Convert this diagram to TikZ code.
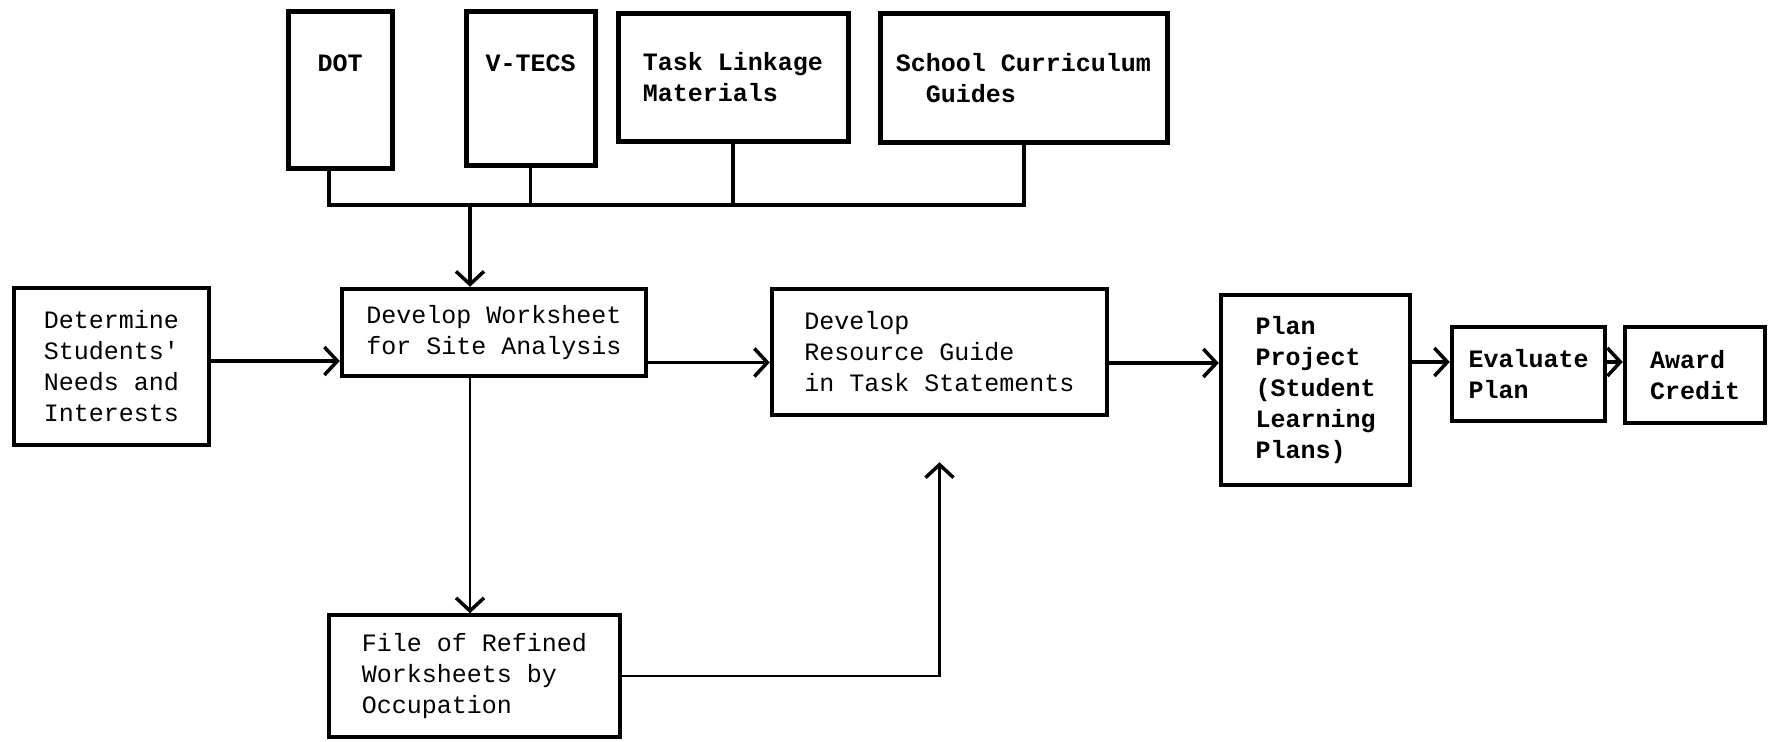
\documentclass[tikz,border=0pt]{standalone}
\usepackage{fontspec}
\setmonofont{Liberation Mono}
\usetikzlibrary{positioning,arrows.meta}

\begin{document}
\begin{tikzpicture}[x=1pt,y=-1pt,
    block/.style={draw, line width=4.5pt, inner sep=0pt, align=left,
        font=\ttfamily\fontsize{25}{31}\selectfont},
    heavy/.style={block, font=\ttfamily\bfseries\fontsize{25}{31}\selectfont},
    source/.style={heavy, anchor=north, line width=5pt},
    link/.style={line width=3.5pt},
    flow/.style={link, -{Straight Barb[length=13pt,width=28pt,line width=3.5pt]}}]
    \useasboundingbox (0,0) rectangle (1768,741);

    % Sources along the top
    \node[source, minimum width=104pt, text height=60pt, text depth=97pt] (dot) at (340,9) {DOT};
    \node[source, minimum width=129pt, text height=60pt, text depth=94pt] (vtecs) at (530.5,9) {V-TECS};
    \node[source, minimum width=230pt, minimum height=128pt] (task) at (733,11) {Task Linkage\\Materials};
    \node[source, minimum width=287pt, minimum height=129pt] (school) at (1023.5,11) {School Curriculum\\~~Guides};

    % Main row
    \node[block, minimum width=195pt, minimum height=157pt] (determine) at (111.5,366.5) {Determine\\Students'\\Needs and\\Interests};
    \node[block, minimum width=304pt, minimum height=87pt] (worksheet) at (494,332.5) {Develop Worksheet\\for Site Analysis};
    \node[block, minimum width=335pt, minimum height=126pt] (resource) at (939.5,352) {Develop\\Resource Guide\\in Task Statements};
    \node[heavy, minimum width=189pt, minimum height=190pt] (plan) at (1315.5,390) {Plan\\Project\\(Student\\Learning\\Plans)};
    \node[heavy, minimum width=153pt, minimum height=94pt] (evaluate) at (1528.5,374) {Evaluate\\Plan};
    \node[heavy, minimum width=140pt, minimum height=96pt] (award) at (1695,375) {Award\\Credit};

    % File below
    \node[block, line width=3.5pt, minimum width=291pt, minimum height=122pt] (file) at (474.5,676) {File of Refined\\Worksheets by\\Occupation};

    % Sources joined on one line
    \coordinate (hub) at (470,205);
    \draw[link, line width=4pt] ([xshift=-11pt]dot.south) |- (hub) -| (school.south);
    \foreach \n in {vtecs,task} {
        \draw[link] (\n.south) -- (\n.south |- hub);
    }
    \draw[flow] (hub) -- (hub |- worksheet.north);

    % Main flow
    \draw[flow] ([yshift=5.5pt]determine.east) -- ([yshift=5.5pt]determine.east -| worksheet.west);
    \draw[flow] ([yshift=-30pt]worksheet.east) -- ([yshift=-30pt]worksheet.east -| resource.west);
    \draw[flow, line width=4.5pt] ([yshift=-11pt]resource.east) -- ([yshift=-11pt]resource.east -| plan.west);
    \draw[flow, line width=4.5pt] ([yshift=12pt]evaluate.west -| plan.east) -- ([yshift=12pt]evaluate.west);
    \draw[flow] ([yshift=12pt]evaluate.east) -- ([yshift=12pt]evaluate.east -| award.west);

    % Worksheets filed and fed back
    \draw[flow, line width=2.8pt] (worksheet.south -| hub) -- (hub |- file.north);
    \draw[flow, line width=2.8pt, shorten >=45pt] (file.east) -| (resource.south);
\end{tikzpicture}
\end{document}
